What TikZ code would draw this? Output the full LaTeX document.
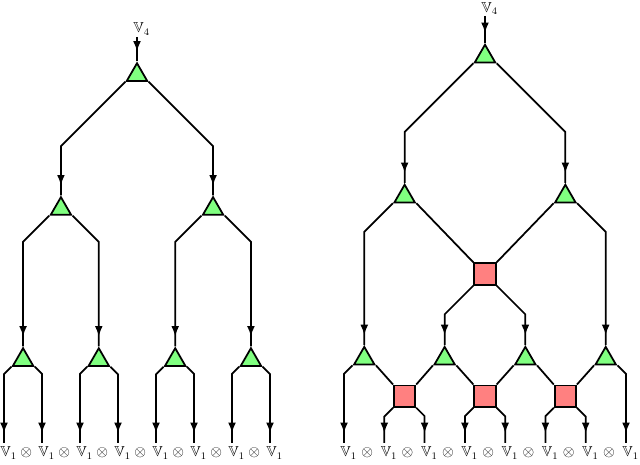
\documentclass[tikz,border=0pt]{standalone}
\usepackage{amssymb}
\usetikzlibrary{shapes.geometric, arrows.meta, calc, decorations.markings}

\tikzstyle{tri} = [regular polygon, regular polygon sides=3, minimum size=0.66cm, inner sep=0pt, draw=black, line width=1.4pt, fill=green!50]
\tikzstyle{box} = [rectangle, minimum size=0.6cm, inner sep=0pt, draw=black, line width=1.4pt, fill=red!50]
\tikzstyle{wire} = [line width=1.4pt]
\tikzstyle{arrow} = [wire, postaction={decorate}, decoration={markings, mark=at position -0.28cm with {\arrow{Latex[length=2.9mm,width=2.2mm]}}}]
\tikzstyle{bent} = [to path={let \p1=(\tikztostart), \p2=(\tikztotarget), \n1={abs(\x2-\x1)} in -- (\x2,{\y1-\n1*1pt}) -- (\tikztotarget)}]
\tikzstyle{lab} = [anchor=base west, inner sep=0pt, xshift=-3pt, font=\fontsize{11.5}{13}\selectfont]
\tikzstyle{otimes} = [anchor=base, inner sep=0pt, xshift=2.5pt, font=\fontsize{11.5}{13}\selectfont]

\begin{document}
\begin{tikzpicture}[x=0.028cm, y=-0.028cm]
\useasboundingbox (0,0) rectangle (640,465);

% left tree
\node (lt0) [tri] at (137,75) {};
\node (lt1a) [tri, node distance=3.75cm, below of=lt0, xshift=-2.13cm] {};
\node (lt1b) [tri, node distance=3.75cm, below of=lt0, xshift=2.13cm] {};
\node (lt2a) [tri, node distance=4.23cm, below of=lt1a, xshift=-1.06cm] {};
\node (lt2b) [tri, node distance=4.23cm, below of=lt1a, xshift=1.06cm] {};
\node (lt2c) [tri, node distance=4.23cm, below of=lt1b, xshift=-1.06cm] {};
\node (lt2d) [tri, node distance=4.23cm, below of=lt1b, xshift=1.06cm] {};

\coordinate (lin) at (137,37);
\node (lv4) [lab] at (137,33) {$\mathbb{V}_4$};
\foreach \i/\x in {1/4,2/42,3/80,4/118,5/156,6/194,7/232,8/270} {
  \coordinate (lo\i) at (\x,443);
  \node (lv\i) [lab] at (\x,457) {$\mathbb{V}_1$};
}
\foreach \i/\x in {1/23,2/61,3/99,4/137,5/175,6/213,7/251}
  \node (lx\i) [otimes] at (\x,457) {$\otimes$};

\draw [arrow] (lin) -- (lt0.corner 1);
\draw [arrow, bent] (lt0.corner 2) to (lt1a.corner 1);
\draw [arrow, bent] (lt0.corner 3) to (lt1b.corner 1);
\draw [arrow, bent] (lt1a.corner 2) to (lt2a.corner 1);
\draw [arrow, bent] (lt1a.corner 3) to (lt2b.corner 1);
\draw [arrow, bent] (lt1b.corner 2) to (lt2c.corner 1);
\draw [arrow, bent] (lt1b.corner 3) to (lt2d.corner 1);
\draw [arrow, bent] (lt2a.corner 2) to (lo1);
\draw [arrow, bent] (lt2a.corner 3) to (lo2);
\draw [arrow, bent] (lt2b.corner 2) to (lo3);
\draw [arrow, bent] (lt2b.corner 3) to (lo4);
\draw [arrow, bent] (lt2c.corner 2) to (lo5);
\draw [arrow, bent] (lt2c.corner 3) to (lo6);
\draw [arrow, bent] (lt2d.corner 2) to (lo7);
\draw [arrow, bent] (lt2d.corner 3) to (lo8);

% right tree
\node (rt0) [tri] at (485,56.5) {};
\node (rt1a) [tri, node distance=3.92cm, below of=rt0, xshift=-2.25cm] {};
\node (rt1b) [tri, node distance=3.92cm, below of=rt0, xshift=2.25cm] {};
\node (rb0) [box, node distance=6.09cm, below of=rt0] {};
\node (rt2a) [tri, node distance=4.54cm, below of=rt1a, xshift=-1.13cm] {};
\node (rt2b) [tri, node distance=2.37cm, below of=rb0, xshift=-1.13cm] {};
\node (rt2c) [tri, node distance=2.37cm, below of=rb0, xshift=1.13cm] {};
\node (rt2d) [tri, node distance=4.54cm, below of=rt1b, xshift=1.13cm] {};
\node (rb1) [box, node distance=5.59cm, below of=rt1a] {};
\node (rb2) [box, node distance=3.42cm, below of=rb0] {};
\node (rb3) [box, node distance=5.59cm, below of=rt1b] {};

\coordinate (rin) at (485,16);
\node (rv4) [lab] at (485,12.5) {$\mathbb{V}_4$};
\foreach \i/\x in {1/344,2/384.3,3/424.6,4/464.9,5/505.2,6/545.4,7/585.7,8/626} {
  \coordinate (ro\i) at (\x,443);
  \node (rv\i) [lab] at (\x,457) {$\mathbb{V}_1$};
}
\foreach \i/\x in {1/364.2,2/404.4,3/444.8,4/485,5/525.3,6/565.6,7/605.8}
  \node (rx\i) [otimes] at (\x,457) {$\otimes$};

\draw [arrow] (rin) -- (rt0.corner 1);
\draw [arrow, bent] (rt0.corner 2) to (rt1a.corner 1);
\draw [arrow, bent] (rt0.corner 3) to (rt1b.corner 1);
\draw [wire] (rt1a.corner 3) -- (rb0.north west);
\draw [wire] (rt1b.corner 2) -- (rb0.north east);
\draw [arrow, bent] (rt1a.corner 2) to (rt2a.corner 1);
\draw [arrow, bent] (rt1b.corner 3) to (rt2d.corner 1);
\draw [arrow, bent] (rb0.south west) to (rt2b.corner 1);
\draw [arrow, bent] (rb0.south east) to (rt2c.corner 1);
\draw [wire] (rt2a.corner 3) -- (rb1.north west);
\draw [wire] (rt2b.corner 2) -- (rb1.north east);
\draw [wire] (rt2b.corner 3) -- (rb2.north west);
\draw [wire] (rt2c.corner 2) -- (rb2.north east);
\draw [wire] (rt2c.corner 3) -- (rb3.north west);
\draw [wire] (rt2d.corner 2) -- (rb3.north east);
\draw [arrow, bent] (rt2a.corner 2) to (ro1);
\draw [arrow, bent] (rb1.south west) to (ro2);
\draw [arrow, bent] (rb1.south east) to (ro3);
\draw [arrow, bent] (rb2.south west) to (ro4);
\draw [arrow, bent] (rb2.south east) to (ro5);
\draw [arrow, bent] (rb3.south west) to (ro6);
\draw [arrow, bent] (rb3.south east) to (ro7);
\draw [arrow, bent] (rt2d.corner 3) to (ro8);

\end{tikzpicture}
\end{document}
